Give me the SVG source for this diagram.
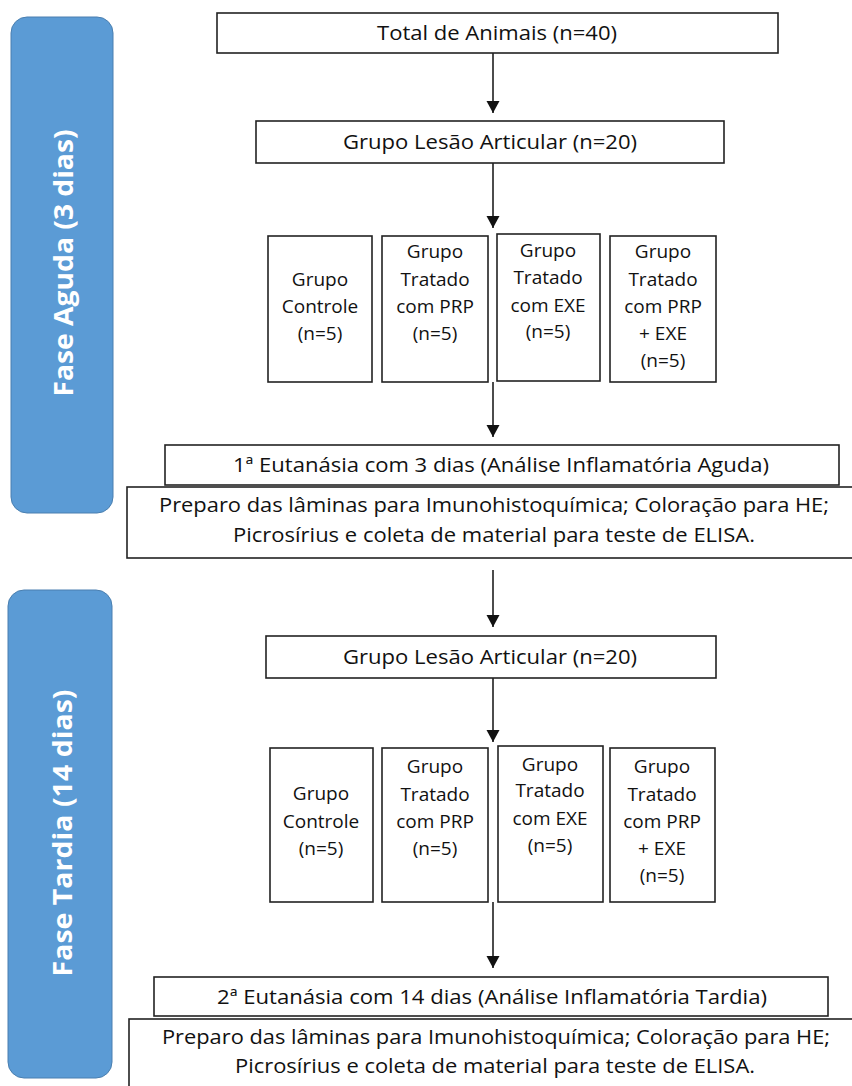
<svg xmlns="http://www.w3.org/2000/svg" width="852" height="1086" viewBox="0 0 852 1086">
<style>
.box{fill:#fff;stroke:#222;stroke-width:1.6}
.phase{fill:#5B9BD5;stroke:#4A7FB0;stroke-width:1}
.t{font-family:"Open Sans","Liberation Sans",sans-serif;font-size:19px;fill:#111;text-anchor:middle}
.w{font-size:20px}
.pt{font-family:"Open Sans","Liberation Sans",sans-serif;font-size:27px;font-weight:bold;fill:#fff;text-anchor:middle}
.arr{stroke:#111;stroke-width:1.5;fill:none;marker-end:url(#ah)}
</style>
<defs>
<marker id="ah" markerUnits="userSpaceOnUse" markerWidth="14" markerHeight="14" refX="12" refY="6.5" orient="auto">
<path d="M0,0 L12,6.5 L0,13 Z" fill="#111"/>
</marker>
</defs>

<g id="phase-aguda">
<rect class="phase" x="11" y="17" width="102" height="496" rx="16"/>
<text class="pt" transform="translate(63,263) rotate(-90)" y="10" textLength="267" lengthAdjust="spacingAndGlyphs">Fase Aguda (3 dias)</text>
</g>
<g id="phase-tardia">
<rect class="phase" x="8" y="590" width="104" height="488" rx="16"/>
<text class="pt" transform="translate(62,833) rotate(-90)" y="10" textLength="287" lengthAdjust="spacingAndGlyphs">Fase Tardia (14 dias)</text>
</g>

<g id="connectors">
<line class="arr" x1="493" y1="53" x2="493" y2="113"/>
<line class="arr" x1="493" y1="163" x2="493" y2="228"/>
<line class="arr" x1="493" y1="382" x2="493" y2="437"/>
<line class="arr" x1="493" y1="570" x2="493" y2="627"/>
<line class="arr" x1="493" y1="678" x2="493" y2="742"/>
<line class="arr" x1="493" y1="902" x2="493" y2="968"/>
</g>

<g id="total">
<rect class="box" x="217" y="13" width="561" height="40"/>
<text class="t w" x="497" y="40" textLength="240" lengthAdjust="spacingAndGlyphs">Total de Animais (n=40)</text>
</g>
<g id="lesao1">
<rect class="box" x="256" y="121" width="468" height="42"/>
<text class="t w" x="490" y="149" textLength="294" lengthAdjust="spacingAndGlyphs">Grupo Lesão Articular (n=20)</text>
</g>

<g id="g1-controle">
<rect class="box" x="268" y="236" width="104" height="146"/>
<text class="t" x="320" y="286">Grupo</text>
<text class="t" x="320" y="313">Controle</text>
<text class="t" x="320" y="340">(n=5)</text>
</g>
<g id="g1-prp">
<rect class="box" x="382" y="236" width="106" height="146"/>
<text class="t" x="435" y="258">Grupo</text>
<text class="t" x="435" y="286">Tratado</text>
<text class="t" x="435" y="313">com PRP</text>
<text class="t" x="435" y="340">(n=5)</text>
</g>
<g id="g1-exe">
<rect class="box" x="497" y="234" width="103" height="147"/>
<text class="t" x="548" y="257">Grupo</text>
<text class="t" x="548" y="284">Tratado</text>
<text class="t" x="548" y="312">com EXE</text>
<text class="t" x="548" y="338">(n=5)</text>
</g>
<g id="g1-prp-exe">
<rect class="box" x="610" y="236" width="106" height="146"/>
<text class="t" x="663" y="258">Grupo</text>
<text class="t" x="663" y="286">Tratado</text>
<text class="t" x="663" y="313">com PRP</text>
<text class="t" x="663" y="340">+ EXE</text>
<text class="t" x="663" y="367">(n=5)</text>
</g>

<g id="eutanasia1">
<rect class="box" x="165" y="445" width="674" height="40"/>
<text class="t w" x="501" y="472" textLength="536" lengthAdjust="spacingAndGlyphs">1ª Eutanásia com 3 dias (Análise Inflamatória Aguda)</text>
</g>
<g id="preparo1">
<rect class="box" x="127" y="487" width="740" height="71"/>
<text class="t w" x="494" y="512" textLength="670" lengthAdjust="spacingAndGlyphs">Preparo das lâminas para Imunohistoquímica; Coloração para HE;</text>
<text class="t w" x="494" y="542" textLength="522" lengthAdjust="spacingAndGlyphs">Picrosírius e coleta de material para teste de ELISA.</text>
</g>

<g id="lesao2">
<rect class="box" x="266" y="636" width="450" height="42"/>
<text class="t w" x="490" y="664" textLength="294" lengthAdjust="spacingAndGlyphs">Grupo Lesão Articular (n=20)</text>
</g>

<g id="g2-controle">
<rect class="box" x="270" y="748" width="103" height="154"/>
<text class="t" x="321" y="800">Grupo</text>
<text class="t" x="321" y="828">Controle</text>
<text class="t" x="321" y="855">(n=5)</text>
</g>
<g id="g2-prp">
<rect class="box" x="382" y="748" width="106" height="154"/>
<text class="t" x="435" y="773">Grupo</text>
<text class="t" x="435" y="801">Tratado</text>
<text class="t" x="435" y="828">com PRP</text>
<text class="t" x="435" y="855">(n=5)</text>
</g>
<g id="g2-exe">
<rect class="box" x="498" y="746" width="105" height="156"/>
<text class="t" x="550" y="771">Grupo</text>
<text class="t" x="550" y="797">Tratado</text>
<text class="t" x="550" y="825">com EXE</text>
<text class="t" x="550" y="852">(n=5)</text>
</g>
<g id="g2-prp-exe">
<rect class="box" x="610" y="748" width="105" height="154"/>
<text class="t" x="662" y="773">Grupo</text>
<text class="t" x="662" y="801">Tratado</text>
<text class="t" x="662" y="828">com PRP</text>
<text class="t" x="662" y="855">+ EXE</text>
<text class="t" x="662" y="882">(n=5)</text>
</g>

<g id="eutanasia2">
<rect class="box" x="154" y="977" width="674" height="39"/>
<text class="t w" x="492" y="1004" textLength="550" lengthAdjust="spacingAndGlyphs">2ª Eutanásia com 14 dias (Análise Inflamatória Tardia)</text>
</g>
<g id="preparo2">
<rect class="box" x="129" y="1019" width="740" height="80"/>
<text class="t w" x="496" y="1044" textLength="668" lengthAdjust="spacingAndGlyphs">Preparo das lâminas para Imunohistoquímica; Coloração para HE;</text>
<text class="t w" x="495" y="1073" textLength="520" lengthAdjust="spacingAndGlyphs">Picrosírius e coleta de material para teste de ELISA.</text>
</g>
</svg>
